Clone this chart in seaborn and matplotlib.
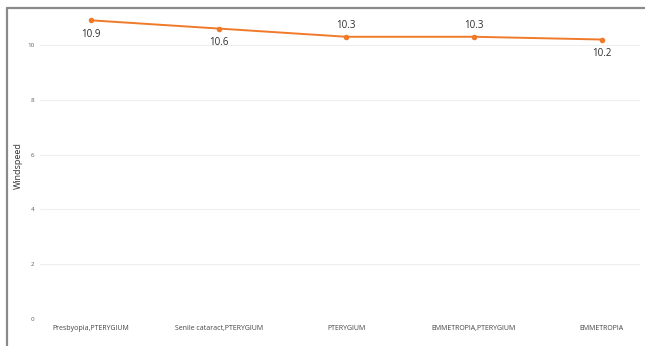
import matplotlib
matplotlib.use("Agg")
import matplotlib.pyplot as plt
from matplotlib.lines import Line2D
import seaborn as sns
import pandas as pd

categories = ["Presbyopia,PTERYGIUM", "Senile cataract,PTERYGIUM", "PTERYGIUM",
              "EMMETROPIA,PTERYGIUM", "EMMETROPIA"]
windspeed = [10.9, 10.6, 10.3, 10.3, 10.2]
label_above = [False, False, True, True, False]
y_ticks = [0, 2, 4, 6, 8, 10]

sns.set_theme(style="white")
plt.rcParams["font.family"] = ["Open Sans", "DejaVu Sans"]

df = pd.DataFrame({"category": categories, "windspeed": windspeed})

fig = plt.figure(figsize=(6.45, 3.46), dpi=100)
ax = fig.add_axes([0.062, 0.078, 0.93, 0.887])

line_color = "#F07A2A"
sns.lineplot(data=df, x="category", y="windspeed", ax=ax, color=line_color,
             linewidth=1.4, marker="o", markersize=4, markeredgewidth=0, sort=False)

for i, (v, up) in enumerate(zip(windspeed, label_above)):
    ax.annotate(f"{v:.1f}", (i, v), xytext=(0, 4 if up else -6), textcoords="offset points",
                ha="center", va="bottom" if up else "top", fontsize=7,
                color="#2b2b2b", fontweight="medium")

ax.set_xlim(-0.4, 4.3)
ax.set_ylim(0, 11.2)
ax.set_yticks(y_ticks)
ax.set_yticklabels([str(t) for t in y_ticks])
ax.grid(axis="y", color="#eeeeee", linewidth=0.8)
ax.set_axisbelow(True)
for s in ax.spines.values():
    s.set_visible(False)
ax.tick_params(axis="y", labelsize=4.5, colors="#556070", length=0, pad=4)
ax.tick_params(axis="x", labelsize=5, colors="#444444", length=0, pad=4)
ax.set_xlabel("")
ax.set_ylabel("Windspeed", fontsize=6.5, color="#333333", labelpad=3)

# frame lines along the left and top edges
fig.add_artist(Line2D([7 / 645, 7 / 645], [0, 1 - 8 / 346], transform=fig.transFigure,
                      color="#8a8a8a", linewidth=1.6))
fig.add_artist(Line2D([7 / 645, 1], [1 - 8 / 346, 1 - 8 / 346], transform=fig.transFigure,
                      color="#8a8a8a", linewidth=1.6))

fig.savefig("out.png", dpi=100)
